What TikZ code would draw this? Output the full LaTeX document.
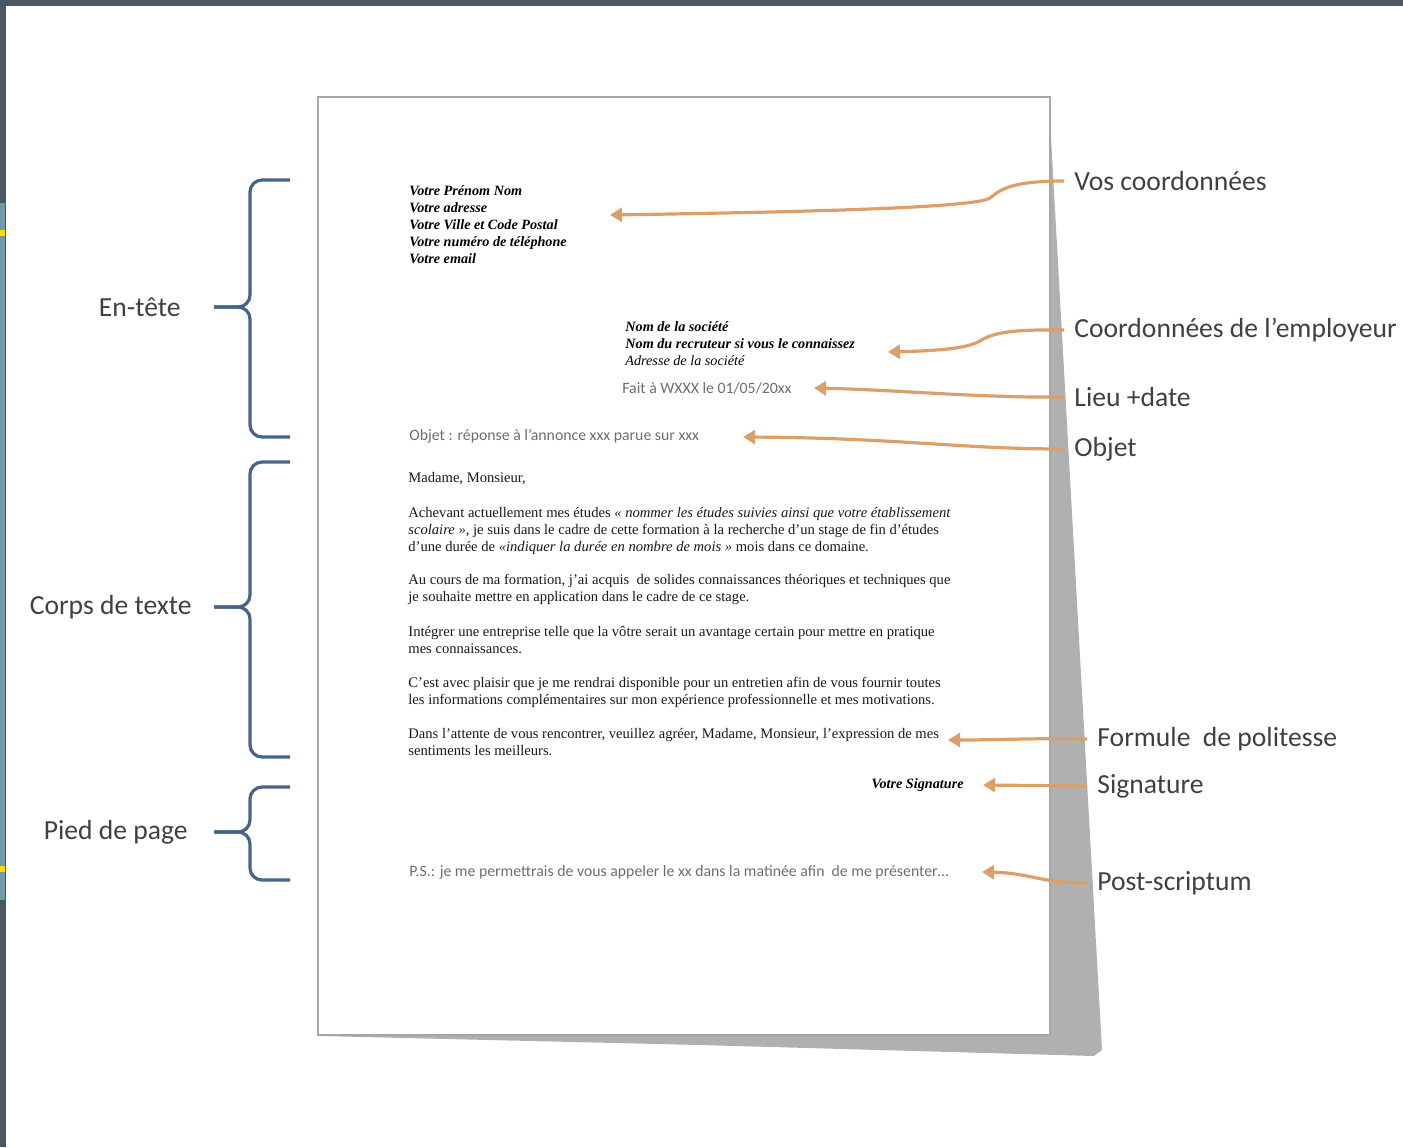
\documentclass[tikz,border=0pt]{standalone}
\usepackage{fontspec}
\setmainfont{Liberation Serif}
\newfontfamily\calib{Carlito}
\usetikzlibrary{arrows.meta}

\definecolor{cadre}{HTML}{4B5863}
\definecolor{bordbleu}{HTML}{7598A8}
\definecolor{accol}{HTML}{46648A}
\definecolor{orangef}{HTML}{DBA06A}
\definecolor{etiq}{HTML}{404040}
\definecolor{grisps}{HTML}{6E6E6E}

\begin{document}
\begin{tikzpicture}[
    x=0.5pt, y=-0.5pt,
    etiquette/.style={anchor=west, inner sep=5pt, font=\calib\fontsize{13.8}{16}\selectfont, text=etiq},
    etiquetteg/.style={etiquette, anchor=east},
    entete/.style={anchor=north west, inner sep=0pt, align=left, font=\fontsize{7.1}{8.5}\selectfont\bfseries\itshape},
    corps/.style={anchor=north west, inner sep=0pt, align=left, font=\fontsize{7.3}{8.5}\selectfont, text=black!90},
    ligne/.style={inner sep=0pt, font=\calib\fontsize{7.9}{8.5}\selectfont, text=grisps},
    fleche/.style={draw=orangef, line width=1.6pt, -{Triangle[width=7pt,length=6pt]}},
    accolade/.style={draw=accol, line width=1.6pt, rounded corners=6pt}
]
\useasboundingbox (0,0) rectangle (1403,1147);

% cadre de l'ecran
\fill[cadre] (0,0) rectangle (1403,6);
\fill[cadre] (0,0) rectangle (6,1147);
\fill[bordbleu] (0,203) rectangle (5,900);
\fill[yellow!80!orange] (0,230) rectangle (5,236);
\fill[yellow!80!orange] (0,866) rectangle (5,872);

% la feuille et son ombre
\fill[black!31] (1050,120) -- (1102,1050) -- (1094,1056) -- (700,1045) -- (320,1036) -- (1050,1035) -- cycle;
\draw[black!35, fill=white, line width=0.8pt] (318,97) rectangle (1050,1035);

% texte de la lettre
\node[entete] (coord) at (409,185) {Votre Prénom Nom\\Votre adresse\\Votre Ville et Code Postal\\Votre numéro de téléphone\\Votre email};
\node[entete] (societe) at (625,321) {Nom de la société\\Nom du recruteur si vous le connaissez\\\mdseries Adresse de la société};
\node[ligne, anchor=west] (date) at (622,388) {Fait à WXXX le 01/05/20xx};
\node[ligne, anchor=west] (obj) at (409,436) {Objet : réponse à l’annonce xxx parue sur xxx};
\node[corps] (madame) at (408,472) {Madame, Monsieur,};
\node[corps] (par1) at (408,507) {Achevant actuellement mes études \textit{« nommer les études suivies ainsi que votre établissement}\\
  \textit{scolaire »}, je suis dans le cadre de cette formation à la recherche d’un stage de fin d’études\\
  d’une durée de \textit{«indiquer la durée en nombre de mois »} mois dans ce domaine.};
\node[corps] (par2) at (408,574) {Au cours de ma formation, j’ai acquis~ de solides connaissances théoriques et techniques que\\
  je souhaite mettre en application dans le cadre de ce stage.};
\node[corps] (par3) at (408,626) {Intégrer une entreprise telle que la vôtre serait un avantage certain pour mettre en pratique\\
  mes connaissances.};
\node[corps] (par4) at (408,677) {C’est avec plaisir que je me rendrai disponible pour un entretien afin de vous fournir toutes\\
  les informations complémentaires sur mon expérience professionnelle et mes motivations.};
\node[corps] (par5) at (408,728) {Dans l’attente de vous rencontrer, veuillez agréer, Madame, Monsieur, l’expression de mes\\
  sentiments les meilleurs.};
\node[entete, anchor=east] (sign) at (964,785) {Votre Signature};
\node[ligne, anchor=west] (postsc) at (409,872) {P.S.: je me permettrais de vous appeler le xx dans la matinée afin~ de me présenter…};

% accolades
\foreach \haut/\mil/\bas in {180/307/437, 462/607/757, 787/832/880} {
  \draw[accolade] (290,\haut) -- (250,\haut) -- (250,\mil) -- (214,\mil);
  \draw[accolade] (214,\mil) -- (250,\mil) -- (250,\bas) -- (290,\bas);
}
\node[etiquetteg] (entet) at (191,307) {En-tête};
\node[etiquetteg] (corpst) at (202,607) {Corps de texte};
\node[etiquetteg] (pied) at (198,832) {Pied de page};

% etiquettes de droite
\node[etiquette] (vos) at (1064,181) {Vos coordonnées};
\node[etiquette] (employeur) at (1064,330) {Coordonnées de l’employeur};
\node[etiquette] (lieu) at (1064,397) {Lieu +date};
\node[etiquette] (objet) at (1064,449) {Objet};
\node[etiquette] (formule) at (1087,739) {Formule~ de politesse};
\node[etiquette] (signature) at (1087,786) {Signature};
\node[etiquette] (ps) at (1087,883) {Post-scriptum};

\coordinate (cVos) at (610,215);
\coordinate (cEmp) at (888,352);
\coordinate (cLieu) at (814,388);
\coordinate (cObjet) at (743,437);
\coordinate (cForm) at (948,740);
\coordinate (cSign) at (983,785);
\coordinate (cPS) at (982,872);

\draw[fleche] (vos.west) .. controls (1010,181) and (1000,190) .. (990,198) .. controls (975,208) and (800,212) .. (cVos);
\draw[fleche] (employeur.west) .. controls (1000,329) and (990,335) .. (978,342) .. controls (965,349) and (930,351) .. (cEmp);
\draw[fleche] (lieu.west) .. controls (980,398) and (900,390) .. (cLieu);
\draw[fleche] (objet.west) .. controls (960,449) and (900,438) .. (cObjet);
\draw[fleche] (formule.west) .. controls (1030,738) and (1000,740) .. (cForm);
\draw[fleche] (signature.west) -- (cSign);
\draw[fleche] (ps.west) .. controls (1040,883) and (1030,873) .. (cPS);

\end{tikzpicture}
\end{document}
